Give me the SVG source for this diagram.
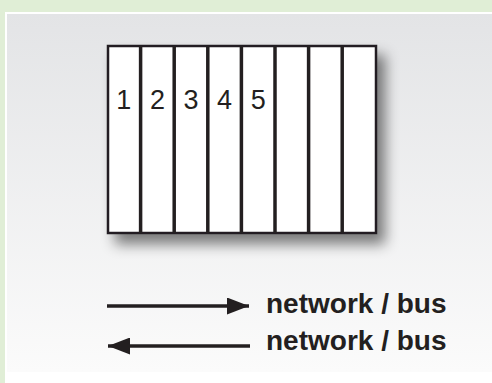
<svg xmlns="http://www.w3.org/2000/svg" width="492" height="383" viewBox="0 0 492 383">
<defs>
<linearGradient id="pg" x1="0" y1="0" x2="0" y2="1">
<stop offset="0" stop-color="#e3e4e6"/>
<stop offset="1" stop-color="#fbfbfb"/>
</linearGradient>
<filter id="sh" x="-20%" y="-20%" width="150%" height="150%">
<feGaussianBlur in="SourceAlpha" stdDeviation="7"/>
<feOffset dx="8" dy="10" result="b"/>
<feComponentTransfer><feFuncA type="linear" slope="0.5"/></feComponentTransfer>
<feMerge><feMergeNode/><feMergeNode in="SourceGraphic"/></feMerge>
</filter>
<marker id="ah" viewBox="0 0 22 17" refX="22" refY="8.5" markerWidth="22" markerHeight="17" markerUnits="userSpaceOnUse" orient="auto">
<path d="M0,0 L22,8.5 L0,17 Z" fill="#231f20"/>
</marker>
</defs>
<style>
.num{font-family:"Liberation Sans",Arial,sans-serif;font-size:27px;fill:#231f20;text-anchor:middle}
.lbl{font-family:"Liberation Sans",Arial,sans-serif;font-size:28px;font-weight:bold;fill:#231f20}
.div{stroke:#231f20;stroke-width:3.5}
.ln{stroke:#231f20;stroke-width:3.5;fill:none}
</style>
<rect width="492" height="383" fill="#e0eed6"/>
<rect x="5" y="12" width="487" height="371" fill="#ffffff"/>
<rect x="7" y="14" width="485" height="358" fill="url(#pg)"/>
<g id="rack">
<rect x="108" y="46" width="268" height="187" fill="#ffffff" stroke="#231f20" stroke-width="2.5" filter="url(#sh)"/>
<line class="div" x1="140.6" y1="46" x2="140.6" y2="233"/>
<line class="div" x1="174.2" y1="46" x2="174.2" y2="233"/>
<line class="div" x1="207.8" y1="46" x2="207.8" y2="233"/>
<line class="div" x1="241.4" y1="46" x2="241.4" y2="233"/>
<line class="div" x1="275" y1="46" x2="275" y2="233"/>
<line class="div" x1="308.6" y1="46" x2="308.6" y2="233"/>
<line class="div" x1="342.2" y1="46" x2="342.2" y2="233"/>
<text class="num" x="123.8" y="108.5">1</text>
<text class="num" x="157.4" y="108.5">2</text>
<text class="num" x="191" y="108.5">3</text>
<text class="num" x="224.6" y="108.5">4</text>
<text class="num" x="258.2" y="108.5">5</text>
</g>
<g id="connectors">
<line class="ln" x1="107" y1="306" x2="249" y2="306" marker-end="url(#ah)"/>
<line class="ln" x1="250" y1="346" x2="108" y2="346" marker-end="url(#ah)"/>
</g>
<g id="labels">
<text class="lbl" x="266" y="313">network / bus</text>
<text class="lbl" x="266" y="350">network / bus</text>
</g>
</svg>
